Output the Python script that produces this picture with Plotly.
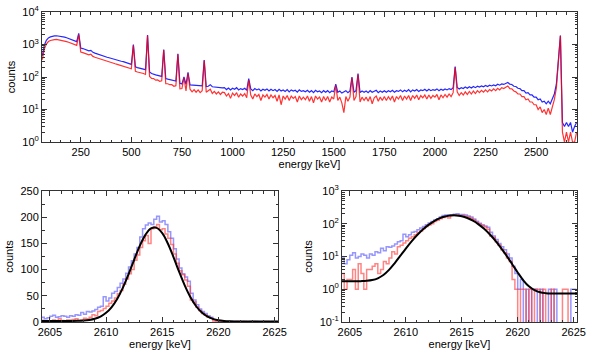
import numpy as np
import plotly.graph_objects as go

# --- full spectrum, 10 keV bins from 60 keV ---
spec_e0, spec_step = 60, 10
spec_blue = [
    450, 950, 1350, 1600, 1720, 1800, 1850, 1860, 1830, 1790,
    1740, 1680, 1610, 1540, 1460, 1390, 1310, 1230, 2200, 780,
    750, 705, 665, 640, 660, 575, 545, 515, 490, 465,
    445, 425, 405, 390, 372, 358, 345, 332, 318, 306,
    296, 284, 272, 258, 245, 1000, 205, 195, 188, 182,
    175, 168, 1950, 142, 128, 120, 116, 112, 108, 104,
    700, 90, 86, 83, 80, 78, 75, 520, 64, 61,
    100, 59, 140, 57, 56, 55, 55, 54, 53, 53,
    330, 51, 52, 58, 50, 49, 48, 47, 47, 46,
    47, 41, 46, 40, 45, 42, 47, 40, 44, 41,
    45, 39, 90, 43, 38, 44, 40, 43, 37, 42,
    39, 43, 37, 42, 38, 41, 36, 42, 37, 40,
    36, 41, 35, 40, 37, 39, 34, 40, 36, 38,
    35, 39, 34, 38, 33, 39, 35, 37, 33, 38,
    34, 38, 33, 37, 35, 60, 34, 37, 32, 36,
    38, 33, 37, 100, 34, 38, 128, 33, 37, 34,
    37, 33, 38, 34, 36, 39, 33, 37, 34, 38,
    34, 38, 35, 39, 34, 38, 36, 40, 35, 39,
    36, 41, 35, 40, 37, 41, 36, 40, 38, 42,
    37, 42, 38, 41, 39, 43, 38, 42, 39, 43,
    40, 44, 41, 47, 210, 48, 43, 47, 44, 49,
    45, 50, 46, 51, 47, 52, 49, 53, 50, 55,
    51, 56, 53, 57, 54, 60, 56, 61, 59, 65,
    68, 60, 59, 52, 51, 45, 44, 38, 38, 32,
    33, 28, 28, 24, 24, 20, 21, 17, 18, 15,
    18, 15, 21, 30, 60, 400, 1900, 4, 3, 4,
    3, 4, 2, 3, 4,
]
spec_red = [
    340, 720, 1030, 1230, 1330, 1390, 1420, 1430, 1400, 1370,
    1330, 1280, 1230, 1170, 1110, 1060, 1000, 940, 2000, 590,
    560, 530, 500, 480, 500, 430, 405, 385, 365, 345,
    330, 315, 300, 290, 275, 265, 255, 245, 235, 225,
    218, 208, 200, 190, 180, 950, 150, 142, 138, 133,
    128, 120, 1900, 104, 90, 89, 80, 81, 74, 76,
    680, 62, 62, 58, 58, 52, 54, 500, 43, 44,
    95, 37, 130, 42, 35, 41, 34, 40, 33, 38,
    320, 34, 38, 42, 31, 36, 30, 35, 29, 34,
    33, 26, 31, 22, 32, 27, 33, 24, 30, 26,
    31, 23, 80, 28, 21, 30, 25, 29, 19, 28,
    24, 29, 21, 28, 23, 27, 18, 28, 14, 26,
    21, 27, 19, 26, 22, 25, 17, 26, 20, 24,
    20, 26, 18, 25, 16, 26, 21, 24, 17, 25,
    19, 25, 17, 24, 21, 55, 19, 24, 16, 8,
    25, 18, 24, 95, 19, 25, 120, 17, 24, 19,
    24, 18, 25, 15, 23, 26, 18, 24, 19, 25,
    19, 25, 20, 26, 17, 25, 21, 27, 19, 26,
    21, 27, 19, 27, 22, 28, 20, 27, 23, 28,
    21, 28, 22, 27, 24, 29, 20, 28, 23, 29,
    24, 30, 25, 33, 200, 35, 27, 33, 28, 35,
    29, 36, 30, 37, 31, 38, 33, 39, 34, 40,
    35, 41, 37, 43, 38, 45, 40, 47, 44, 50,
    53, 44, 43, 37, 35, 30, 30, 25, 25, 20,
    21, 17, 17, 14, 14, 10, 12, 8, 10, 7,
    11, 7, 12, 20, 45, 350, 1850, 2, 1, 2,
    1, 2, 1, 1, 2,
]

# --- 2614 keV peak, 0.25 keV bins from 2604.0 keV ---
peak_e0, peak_step = 2604.0, 0.25
peak_blue = [
    5, 9, 6, 8, 11, 13, 9, 10, 12, 11, 9, 12, 11, 14, 13, 18, 15, 20, 19, 21,
    24, 28, 30, 48, 40, 46, 55, 58, 66, 74, 82, 93, 105, 117, 130, 142, 162, 178, 185, 189,
    186, 196, 202, 191, 193, 186, 172, 160, 140, 120, 103, 92, 86, 78, 55, 42, 33, 25, 20, 16,
    12, 9, 5, 3, 1, 2, 0, 1, 0, 1, 1, 0, 1, 0, 0, 1, 0, 1, 0, 0,
    0, 0, 0, 1, 1, 1,
]
peak_red = [
    2, 3, 1, 2, 2, 4, 1, 6, 3, 1, 4, 4, 5, 6, 3, 4, 7, 6, 9, 14,
    12, 20, 22, 26, 30, 36, 40, 46, 54, 60, 72, 82, 92, 100, 118, 128, 142, 155, 165, 150,
    178, 182, 186, 176, 178, 168, 160, 148, 130, 112, 98, 90, 80, 68, 42, 38, 28, 22, 16, 13,
    9, 7, 2, 1, 0, 1, 1, 0, 1, 0, 1, 1, 0, 1, 0, 0, 1, 0, 0, 0,
    1, 1, 0, 0, 0, 0,
]

# --- fit curve, 0.5 keV steps from 2604 keV ---
fit_e0, fit_step = 2604.0, 0.5
fit_counts = [
    1.75, 1.75, 1.75, 1.75, 1.77, 1.81, 1.91, 2.16, 2.72, 3.9,
    6.2, 10.4, 17.5, 28.6, 44.5, 65.7, 91.1, 118.7, 145.3, 166.3,
    178.6, 179.6, 169.7, 149.8, 123.9, 96.0, 69.8, 47.6, 30.5, 18.4,
    10.6, 5.9, 3.25, 1.88, 1.23, 0.94, 0.81, 0.76, 0.74, 0.74,
    0.74, 0.74, 0.74, 0.74,
]

spec_e = spec_e0 + spec_step * np.arange(len(spec_blue))
peak_e = peak_e0 + peak_step * np.arange(len(peak_blue))
fit_e = fit_e0 + fit_step * np.arange(len(fit_counts))

# zero bins drawn down to the bottom of the log panel
floor = 1e-3
peak_blue_log = np.where(np.array(peak_blue) > 0, peak_blue, floor)
peak_red_log = np.where(np.array(peak_red) > 0, peak_red, floor)

BLUE = "rgba(0,0,255,0.85)"
RED = "rgba(255,0,0,0.8)"
BLUE_L = "rgba(80,80,255,0.6)"
RED_L = "rgba(255,50,50,0.6)"

fig = go.Figure()

# top: full spectrum
fig.add_trace(go.Scatter(x=spec_e, y=spec_blue, mode="lines",
                         line=dict(color=BLUE, width=1.2), xaxis="x", yaxis="y"))
fig.add_trace(go.Scatter(x=spec_e, y=spec_red, mode="lines",
                         line=dict(color=RED, width=1.2), xaxis="x", yaxis="y"))

# bottom left: peak, linear
fig.add_trace(go.Scatter(x=peak_e, y=peak_blue, mode="lines", line_shape="hv",
                         line=dict(color=BLUE_L, width=1.5), xaxis="x2", yaxis="y2"))
fig.add_trace(go.Scatter(x=peak_e, y=peak_red, mode="lines", line_shape="hv",
                         line=dict(color=RED_L, width=1.5), xaxis="x2", yaxis="y2"))
fig.add_trace(go.Scatter(x=fit_e, y=fit_counts, mode="lines", line_shape="spline",
                         line=dict(color="black", width=2), xaxis="x2", yaxis="y2"))

# bottom right: peak, log
fig.add_trace(go.Scatter(x=peak_e, y=peak_blue_log, mode="lines", line_shape="hv",
                         line=dict(color=BLUE_L, width=1.5), xaxis="x3", yaxis="y3"))
fig.add_trace(go.Scatter(x=peak_e, y=peak_red_log, mode="lines", line_shape="hv",
                         line=dict(color=RED_L, width=1.5), xaxis="x3", yaxis="y3"))
fig.add_trace(go.Scatter(x=fit_e, y=fit_counts, mode="lines", line_shape="spline",
                         line=dict(color="black", width=2), xaxis="x3", yaxis="y3"))

FONT = dict(family="Liberation Sans, Arial, sans-serif", size=11, color="black")
MINOR = dict(ticks="inside", ticklen=2.5, tickcolor="#333", showgrid=False)
axis = dict(showline=True, linecolor="#333", linewidth=1, mirror="ticks",
            ticks="inside", ticklen=5, tickcolor="#333", showgrid=False,
            zeroline=False, tickfont=FONT, title_font=FONT, automargin=False)


def log_ticks(lo, hi):
    vals = [10.0 ** d for d in range(lo, hi + 1)]
    text = [f"10<sup>{d}</sup>" for d in range(lo, hi + 1)]
    minor = [k * 10.0 ** d for d in range(lo, hi) for k in range(2, 10)]
    return vals, text, minor


tv1, tt1, mv1 = log_ticks(0, 4)
tv3, tt3, mv3 = log_ticks(-1, 3)

W, H = 598, 359


def xdom(a, b):
    return [a / W, b / W]


def ydom(top, bottom):
    return [1 - bottom / H, 1 - top / H]


fig.update_layout(
    width=W, height=H,
    margin=dict(l=0, r=0, t=0, b=0),
    paper_bgcolor="white", plot_bgcolor="white",
    showlegend=False,
    font=FONT,
    xaxis=dict(axis, domain=xdom(42, 577), anchor="y", range=[58.5, 2702],
               tick0=0, dtick=250, minor=dict(MINOR, dtick=50),
               title=dict(text="energy [keV]", standoff=2)),
    yaxis=dict(axis, domain=ydom(12, 142), anchor="x", type="log", range=[0, 4],
               tickvals=tv1, ticktext=tt1,
               minor=dict(MINOR, tickmode="array", tickvals=mv1),
               title=dict(text="counts", standoff=4)),
    xaxis2=dict(axis, domain=xdom(42, 278), anchor="y2", range=[2604.3, 2625.3],
                tick0=2605, dtick=5, minor=dict(MINOR, dtick=1),
                title=dict(text="energy [keV]", standoff=2)),
    yaxis2=dict(axis, domain=ydom(191, 322), anchor="x2", range=[0, 250],
                dtick=50, minor=dict(MINOR, dtick=25),
                title=dict(text="counts", standoff=4)),
    xaxis3=dict(axis, domain=xdom(342, 577), anchor="y3", range=[2604.3, 2625.3],
                tick0=2605, dtick=5, minor=dict(MINOR, dtick=1),
                title=dict(text="energy [keV]", standoff=2)),
    yaxis3=dict(axis, domain=ydom(191, 322), anchor="x3", type="log", range=[-1, 3],
                tickvals=tv3, ticktext=tt3,
                minor=dict(MINOR, tickmode="array", tickvals=mv3),
                title=dict(text="counts", standoff=4)),
)

# the page body's default 8 px margin would push the figure out of the window
fig.write_html("out.html", config={"displayModeBar": False},
               post_script="document.body.style.margin = '0px';")
